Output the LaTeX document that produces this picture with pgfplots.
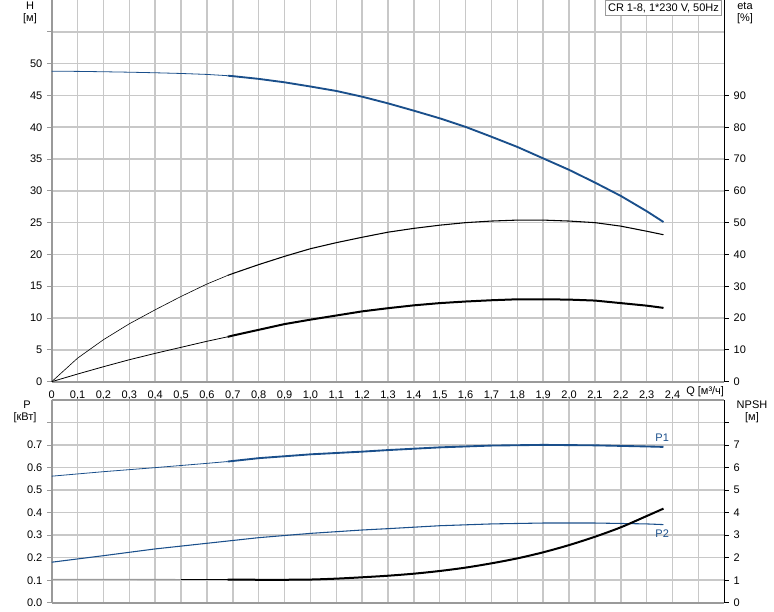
\documentclass[border=0pt]{standalone}
\usepackage{fontspec}
\setmainfont{Liberation Sans}
\usepackage{pgfplots}
\pgfplotsset{compat=1.18}
\definecolor{curveblue}{HTML}{1A4F8B}
\definecolor{gridgray}{HTML}{C8C8C8}
\definecolor{spinegray}{HTML}{9A9A9A}
\newcommand{\tf}{\fontsize{8.25}{10}\selectfont}
\pgfplotsset{
  base/.style={scale only axis, width=504.4pt, xmin=0, xmax=2.6,
    tick align=outside, major tick length=3.5pt,
    ticklabel style={font=\tf},
    xtick={0,0.1,0.2,0.3,0.4,0.5,0.6,0.7,0.8,0.9,1.0,1.1,1.2,1.3,1.4,1.5,1.6,1.7,1.8,1.9,2.0,2.1,2.2,2.3,2.4,2.5},
  },
}
\begin{document}
\begin{tikzpicture}
\path[use as bounding box] (0,0) rectangle (580.5pt,458.25pt);
% ---------------- top: H (left) ----------------
\begin{axis}[base, at={(38.8pt,172pt)}, anchor=south west, height=286.25pt,
  ymin=0, ymax=60,
  axis x line*=bottom, axis y line*=left,
  axis line style={-, draw=spinegray, line width=1.5pt},
  xticklabels={0,{0,1},{0,2},{0,3},{0,4},{0,5},{0,6},{0,7},{0,8},{0,9},{1,0},{1,1},{1,2},{1,3},{1,4},{1,5},{1,6},{1,7},{1,8},{1,9},{2,0},{2,1},{2,2},{2,3},{2,4},{}},
  xtick style={/pgfplots/major tick length=0pt},
  ytick={0,5,10,15,20,25,30,35,40,45,50,55},
  yticklabels={0,5,10,15,20,25,30,35,40,45,50,{}},
  ytick style={draw=spinegray, line width=0.75pt},
  grid=major, major grid style={draw=gridgray, line width=1.1pt},
]
\addplot[curveblue, line width=0.6pt] coordinates {
(0,48.8) (0.1,48.78) (0.2,48.72) (0.3,48.65) (0.4,48.56) (0.5,48.45) (0.6,48.3) (0.68,48.1)};
\addplot[curveblue, line width=1.4pt] coordinates {
(0.68,48.1) (0.7,48.03) (0.8,47.6) (0.9,47.06) (1.0,46.4) (1.1,45.7) (1.2,44.8) (1.3,43.75)
(1.4,42.6) (1.5,41.4) (1.6,40.05) (1.7,38.5) (1.8,36.9) (1.9,35.1) (2.0,33.3) (2.1,31.3)
(2.2,29.2) (2.3,26.8) (2.365,25.1)};
\end{axis}
% ---------------- top: eta (right) ----------------
\begin{axis}[base, at={(38.8pt,172pt)}, anchor=south west, height=286.25pt,
  ymin=0, ymax=120,
  axis x line=none, axis y line*=right,
  axis line style={-, draw=black, line width=0.9pt},
  xtick=\empty,
  ytick={0,10,20,30,40,50,60,70,80,90},
  yticklabels={0,10,20,30,40,50,60,70,80,90},
  ytick style={draw=black, line width=0.6pt},
]
\addplot[black, line width=0.45pt] coordinates {
(0,0) (0.1,7.4) (0.2,13.2) (0.3,18.2) (0.4,22.6) (0.5,26.8) (0.6,30.7) (0.68,33.4)};
\addplot[black, line width=0.8pt] coordinates {
(0.68,33.4) (0.7,34.0) (0.8,36.8) (0.9,39.4) (1.0,41.8) (1.1,43.7) (1.2,45.4) (1.3,47.0)
(1.4,48.2) (1.5,49.2) (1.6,50.0) (1.7,50.5) (1.8,50.8) (1.9,50.8) (2.0,50.5) (2.1,50.0)
(2.2,48.9) (2.3,47.3) (2.365,46.2)};
\addplot[black, line width=0.6pt] coordinates {
(0,0) (0.1,2.4) (0.2,4.7) (0.3,6.9) (0.4,8.9) (0.5,10.8) (0.6,12.7) (0.68,14.1)};
\addplot[black, line width=1.5pt] coordinates {
(0.68,14.1) (0.7,14.5) (0.8,16.3) (0.9,18.1) (1.0,19.5) (1.1,20.8) (1.2,22.1) (1.3,23.1)
(1.4,24.0) (1.5,24.7) (1.6,25.2) (1.7,25.6) (1.8,25.9) (1.9,25.9) (2.0,25.8) (2.1,25.5)
(2.2,24.7) (2.3,23.9) (2.365,23.2)};
\end{axis}
% ---------------- bottom: P (left) ----------------
\begin{axis}[base, at={(38.8pt,6.2pt)}, anchor=south west, height=152pt,
  ymin=0, ymax=0.9,
  axis x line*=box, axis y line*=left,
  axis line style={-, draw=spinegray, line width=1.5pt},
  xticklabels={}, xtick style={/pgfplots/major tick length=0pt},
  ytick={0,0.1,0.2,0.3,0.4,0.5,0.6,0.7,0.8},
  yticklabels={0.0,0.1,0.2,0.3,0.4,0.5,0.6,0.7,{}},
  ytick style={draw=spinegray, line width=0.75pt},
  grid=major, major grid style={draw=gridgray, line width=1.1pt},
]
\addplot[curveblue, line width=0.6pt] coordinates {
(0,0.562) (0.2,0.582) (0.4,0.600) (0.6,0.619) (0.68,0.627)};
\addplot[curveblue, line width=1.4pt] coordinates {
(0.68,0.627) (0.8,0.642) (1.0,0.659) (1.2,0.671) (1.3,0.678) (1.5,0.690) (1.7,0.698)
(1.9,0.701) (2.1,0.699) (2.3,0.694) (2.365,0.692)};
\addplot[curveblue, line width=0.8pt] coordinates {
(0,0.180) (0.2,0.209) (0.4,0.239) (0.6,0.264) (0.68,0.274) (0.8,0.289) (1.0,0.308)
(1.2,0.323) (1.3,0.329) (1.5,0.342) (1.7,0.350) (1.9,0.354) (2.1,0.354) (2.3,0.350) (2.365,0.347)};
\node[font=\tf, text=curveblue, anchor=south] at (axis cs:2.36,0.697) {P1};
\node[font=\tf, text=curveblue, anchor=north] at (axis cs:2.36,0.345) {P2};
\end{axis}
% ---------------- bottom: NPSH (right) ----------------
\begin{axis}[base, at={(38.8pt,6.2pt)}, anchor=south west, height=152pt,
  ymin=0, ymax=9,
  axis x line=none, axis y line*=right,
  axis line style={-, draw=black, line width=0.9pt},
  xtick=\empty,
  ytick={0,1,2,3,4,5,6,7,8},
  yticklabels={0,1,2,3,4,5,6,7,{}},
  ytick style={draw=black, line width=0.6pt},
]
\addplot[spinegray, line width=0.8pt] coordinates {
(0,1.04) (0.25,1.035) (0.5,1.03)};
\addplot[black, line width=0.7pt] coordinates {
(0.5,1.03) (0.68,1.03)};
\addplot[black, line width=1.5pt, smooth] coordinates {
(0.68,1.03) (0.8,1.02) (0.9,1.02) (1.0,1.03) (1.1,1.07) (1.2,1.13) (1.3,1.2) (1.4,1.29)
(1.5,1.41) (1.6,1.56) (1.7,1.75) (1.8,1.97) (1.9,2.24) (2.0,2.56) (2.1,2.93) (2.2,3.35)
(2.3,3.85) (2.365,4.18)};
\end{axis}
% ---------------- labels ----------------
\node[font=\tf] at (22.5pt,454pt) {H};
\node[font=\tf] at (22.5pt,444.5pt) {[м]};
\node[font=\tf] at (558.75pt,454pt) {eta};
\node[font=\tf] at (558.75pt,444.5pt) {[\%]};
\node[font=\tf] at (20.25pt,154.5pt) {P};
\node[font=\tf] at (18.75pt,145pt) {[кВт]};
\node[font=\tf] at (564pt,154.5pt) {NPSH};
\node[font=\tf] at (564pt,145pt) {[м]};
\node[font=\tf, anchor=west, inner sep=0pt] at (514.5pt,164.6pt) {Q [м³/ч]};
\node[font=\tf, draw=spinegray, fill=white, anchor=north east, inner sep=2pt, line width=0.6pt] at (541.5pt,458pt) {CR 1-8, 1*230 V, 50Hz};
\end{tikzpicture}
\end{document}
